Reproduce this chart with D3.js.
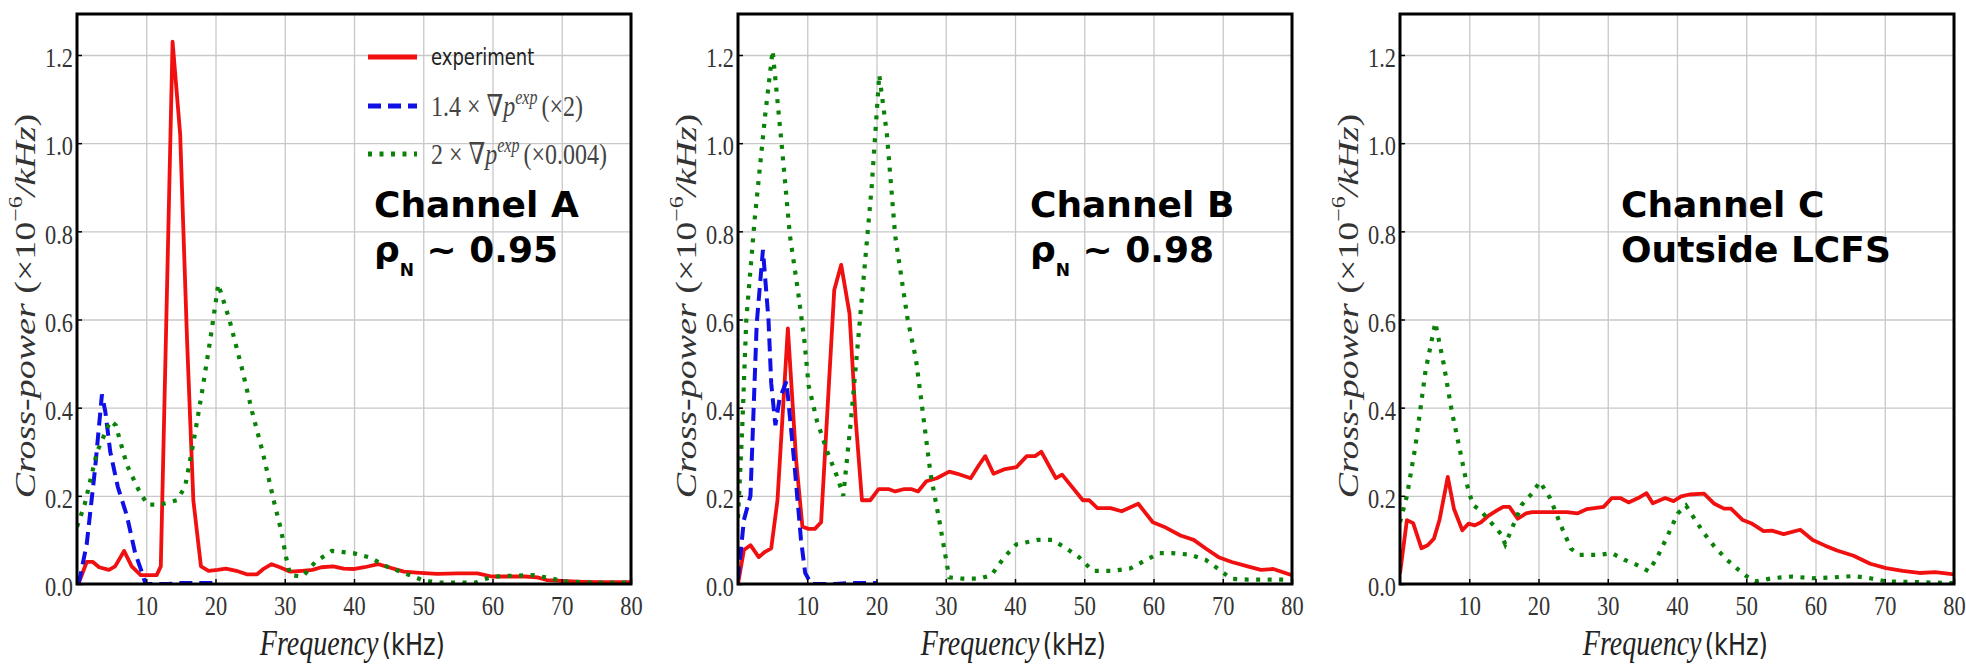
<!DOCTYPE html>
<html>
<head>
<meta charset="utf-8">
<script src="https://cdn.jsdelivr.net/npm/d3@7"></script>
<style>
  html, body { margin: 0; padding: 0; background: #fff; }
  svg { display: block; }
</style>
</head>
<body>
<svg id="chart" width="1966" height="665"></svg>
<script>
// ---- Channel A (rho_N ~ 0.95) ----
const expA_f = [0.2, 1.4, 2.3, 3.2, 4.6, 5.5, 6.8, 7.9, 9.2, 10.4, 11.5, 12.1, 13.8, 14.9, 15.9, 16.8, 17.9, 19.0, 20.3, 21.5, 23.0, 24.5, 26.0, 27.0, 28.1, 29.3, 30.8, 32.5, 34.0, 35.3, 37.0, 38.5, 39.9, 41.5, 43.5, 45.0, 47.2, 49.0, 52.0, 55.0, 57.8, 59.9, 62.0, 64.7, 66.5, 67.8, 70.0, 73.0, 76.0, 80.0];
const expA_p = [0.0, 0.05, 0.05, 0.038, 0.032, 0.04, 0.075, 0.04, 0.02, 0.02, 0.02, 0.04, 1.23, 1.02, 0.55, 0.19, 0.04, 0.03, 0.032, 0.035, 0.03, 0.022, 0.022, 0.035, 0.045, 0.038, 0.028, 0.03, 0.032, 0.038, 0.04, 0.035, 0.034, 0.038, 0.045, 0.038, 0.028, 0.026, 0.023, 0.024, 0.024, 0.017, 0.017, 0.017, 0.015, 0.009, 0.007, 0.005, 0.004, 0.004];
const gradA_f = [0.2, 0.5, 1.4, 2.6, 3.6, 4.1, 4.8, 5.9, 7.2, 8.4, 9.3, 9.9, 11.0, 13.0, 15.0, 17.0, 20.0];
const gradA_p = [0.0, 0.02, 0.09, 0.26, 0.43, 0.39, 0.30, 0.22, 0.155, 0.07, 0.03, 0.0, 0.0, 0.0, 0.002, 0.002, 0.002];
const gradA2_f = [0.0, 1.1, 2.9, 4.8, 5.6, 7.2, 9.0, 10.2, 12.0, 14.4, 15.6, 16.8, 18.1, 19.3, 20.4, 22.0, 23.8, 25.3, 26.8, 28.4, 29.5, 30.2, 30.8, 32.6, 34.4, 36.8, 39.9, 42.3, 44.7, 47.2, 50.2, 52.6, 57.5, 59.3, 61.1, 65.9, 68.4, 70.2, 75.0, 80.0];
const gradA2_p = [0.13, 0.18, 0.30, 0.37, 0.36, 0.27, 0.21, 0.18, 0.18, 0.19, 0.22, 0.32, 0.44, 0.56, 0.68, 0.60, 0.49, 0.39, 0.30, 0.19, 0.12, 0.06, 0.02, 0.017, 0.05, 0.075, 0.07, 0.06, 0.04, 0.025, 0.007, 0.003, 0.003, 0.013, 0.018, 0.02, 0.013, 0.006, 0.003, 0.003];

// ---- Channel B (rho_N ~ 0.98) ----
const expB_f = [0.0, 0.85, 1.8, 3.0, 3.9, 4.8, 5.7, 7.2, 8.4, 9.3, 10.2, 11.1, 12.0, 13.9, 14.9, 16.1, 17.0, 17.9, 19.1, 20.3, 21.8, 22.7, 23.9, 25.1, 26.0, 27.2, 28.7, 30.5, 31.7, 33.6, 34.8, 35.7, 36.9, 38.4, 40.2, 41.7, 42.9, 43.8, 45.9, 46.8, 49.8, 50.7, 51.9, 53.8, 55.4, 57.8, 59.9, 61.5, 63.9, 65.8, 67.6, 69.5, 71.3, 73.6, 75.5, 77.3, 80.0];
const expB_p = [0.0, 0.077, 0.088, 0.061, 0.073, 0.081, 0.19, 0.58, 0.28, 0.13, 0.125, 0.125, 0.14, 0.667, 0.724, 0.614, 0.372, 0.19, 0.19, 0.215, 0.215, 0.21, 0.215, 0.215, 0.21, 0.233, 0.24, 0.255, 0.25, 0.24, 0.27, 0.29, 0.25, 0.26, 0.265, 0.29, 0.29, 0.3, 0.24, 0.248, 0.19, 0.19, 0.172, 0.172, 0.165, 0.182, 0.14, 0.13, 0.11, 0.1, 0.08, 0.06, 0.05, 0.04, 0.032, 0.034, 0.02];
const gradB_f = [0.0, 0.85, 1.8, 2.7, 3.6, 4.4, 4.8, 5.4, 6.0, 7.0, 8.1, 9.1, 9.7, 10.6, 12.0, 14.0, 16.0, 18.0, 20.0];
const gradB_p = [0.01, 0.145, 0.2, 0.59, 0.758, 0.6, 0.455, 0.36, 0.42, 0.46, 0.28, 0.1, 0.025, 0.0, 0.0, 0.0, 0.002, 0.002, 0.002];
const gradB2_f = [0.0, 0.6, 1.2, 2.4, 3.9, 5.0, 6.3, 7.5, 8.7, 9.6, 10.2, 11.4, 12.9, 14.4, 15.2, 16.3, 17.5, 19.3, 20.4, 21.5, 22.7, 24.5, 25.7, 26.6, 27.8, 29.0, 30.0, 30.5, 32.4, 34.8, 36.6, 38.4, 40.2, 43.3, 45.4, 47.5, 49.3, 51.2, 54.2, 56.6, 58.4, 60.8, 62.7, 65.1, 67.5, 69.3, 71.2, 73.6, 80.0];
const gradB2_p = [0.15, 0.35, 0.6, 0.826, 1.06, 1.21, 0.998, 0.79, 0.66, 0.55, 0.45, 0.37, 0.3, 0.24, 0.2, 0.37, 0.58, 0.9, 1.155, 1.02, 0.79, 0.6, 0.51, 0.4, 0.25, 0.15, 0.06, 0.015, 0.012, 0.012, 0.02, 0.06, 0.09, 0.1, 0.1, 0.08, 0.06, 0.03, 0.03, 0.035, 0.05, 0.07, 0.07, 0.067, 0.055, 0.035, 0.012, 0.01, 0.01];

// ---- Channel C (outside LCFS) ----
const expC_f = [0.0, 1.0, 1.9, 3.1, 4.0, 4.9, 5.7, 6.9, 7.8, 9.0, 9.9, 10.8, 11.7, 12.8, 14.0, 14.9, 15.8, 17.0, 18.2, 19.1, 21.7, 24.1, 25.6, 27.0, 29.4, 30.6, 31.8, 33.0, 34.4, 35.6, 36.5, 38.3, 39.5, 40.6, 41.8, 43.9, 45.4, 46.8, 47.8, 49.5, 50.7, 52.5, 53.7, 55.4, 57.8, 59.6, 61.4, 63.1, 65.5, 67.9, 70.2, 72.6, 75.0, 77.3, 80.0];
const expC_p = [0.024, 0.145, 0.138, 0.081, 0.088, 0.103, 0.145, 0.243, 0.17, 0.122, 0.137, 0.133, 0.14, 0.155, 0.167, 0.175, 0.175, 0.148, 0.16, 0.163, 0.163, 0.163, 0.16, 0.17, 0.175, 0.195, 0.195, 0.185, 0.195, 0.206, 0.183, 0.195, 0.188, 0.199, 0.203, 0.205, 0.182, 0.171, 0.171, 0.145, 0.138, 0.12, 0.121, 0.113, 0.123, 0.1, 0.087, 0.076, 0.064, 0.046, 0.036, 0.03, 0.025, 0.027, 0.022];
const gradC2_f = [0.0, 1.0, 2.2, 3.7, 5.1, 6.3, 7.5, 8.7, 9.6, 10.5, 11.7, 13.4, 14.6, 15.2, 16.4, 17.6, 19.1, 20.2, 21.7, 23.2, 24.7, 25.9, 28.8, 30.6, 32.4, 34.1, 35.9, 37.1, 38.6, 40.1, 41.3, 42.4, 43.9, 45.4, 47.2, 48.9, 50.1, 51.3, 53.7, 56.6, 59.6, 62.5, 65.5, 67.9, 70.2, 80.0];
const gradC2_p = [0.14, 0.2, 0.31, 0.485, 0.593, 0.5, 0.39, 0.3, 0.23, 0.18, 0.165, 0.135, 0.113, 0.09, 0.135, 0.18, 0.206, 0.232, 0.194, 0.134, 0.08, 0.066, 0.066, 0.07, 0.055, 0.044, 0.029, 0.059, 0.108, 0.16, 0.178, 0.151, 0.115, 0.085, 0.055, 0.032, 0.017, 0.006, 0.013, 0.017, 0.013, 0.015, 0.018, 0.013, 0.006, 0.002];

// ---- axes ----
const xTicks = [10, 20, 30, 40, 50, 60, 70, 80];
const yTicks = [0.0, 0.2, 0.4, 0.6, 0.8, 1.0, 1.2];
const xDomain = [0, 80];
const yDomain = [0, 1.293];

const panelTitles = ["Channel A", "Channel B", "Channel C"];
const legendLabels = ["experiment", "1.4 \u00d7 \u2207p exp (\u00d72)", "2 \u00d7 \u2207p exp (\u00d70.004)"];

const panels = [
  { exp: [expA_f, expA_p], grad: [gradA_f, gradA_p], grad2: [gradA2_f, gradA2_p], rho: "0.95" },
  { exp: [expB_f, expB_p], grad: [gradB_f, gradB_p], grad2: [gradB2_f, gradB2_p], rho: "0.98" },
  { exp: [expC_f, expC_p], grad: null, grad2: [gradC2_f, gradC2_p], rho: null }
];

const COLORS = { exp: "#f01010", grad: "#1010e6", grad2: "#0a820a" };
const SERIF = "'Liberation Serif', 'DejaVu Serif', serif";
const SANS = "'DejaVu Sans', 'Liberation Sans', sans-serif";
const SQ = 0.8; // horizontal squeeze of plot text

const svg = d3.select("#chart");
svg.append("rect").attr("width", 1966).attr("height", 665).attr("fill", "#fff");

const plotLefts = [77, 738, 1400];
const plotW = 554, plotTop = 14, plotBottom = 584;

plotLefts.forEach((left, i) => {
  const P = panels[i];
  const x = d3.scaleLinear().domain(xDomain).range([0, plotW]);
  const y = d3.scaleLinear().domain(yDomain).range([plotBottom - plotTop, 0]);
  const h = plotBottom - plotTop;
  const g = svg.append("g").attr("transform", `translate(${left},${plotTop})`);

  // grid
  g.append("g").attr("transform", `translate(0,${h})`)
    .call(d3.axisBottom(x).tickValues(xTicks).tickSize(-h).tickFormat(""))
    .call(s => s.select(".domain").remove())
    .call(s => s.selectAll("line").attr("stroke", "#c8c8c8").attr("stroke-width", 1.3));
  g.append("g")
    .call(d3.axisLeft(y).tickValues(yTicks.filter(v => v > 0)).tickSize(-plotW).tickFormat(""))
    .call(s => s.select(".domain").remove())
    .call(s => s.selectAll("line").attr("stroke", "#c8c8c8").attr("stroke-width", 1.3));

  // curves, clipped to the plot area
  const cid = "clip" + i;
  g.append("clipPath").attr("id", cid).append("rect").attr("width", plotW).attr("height", h);
  const lines = g.append("g").attr("clip-path", `url(#${cid})`);
  const lineGen = d3.line().x(d => x(d[0])).y(d => y(d[1]));
  const pairs = (arr) => arr[0].map((f, k) => [f, arr[1][k]]);

  lines.append("path").datum(pairs(P.exp))
    .attr("d", lineGen).attr("fill", "none").attr("stroke", COLORS.exp)
    .attr("stroke-width", 3.8).attr("stroke-linejoin", "round");
  if (P.grad) {
    lines.append("path").datum(pairs(P.grad))
      .attr("d", lineGen).attr("fill", "none").attr("stroke", COLORS.grad)
      .attr("stroke-width", 4).attr("stroke-dasharray", "13,7");
  }
  lines.append("path").datum(pairs(P.grad2))
    .attr("d", lineGen).attr("fill", "none").attr("stroke", COLORS.grad2)
    .attr("stroke-width", 4.2).attr("stroke-dasharray", "4,7.5");

  // axes with labels
  const xa = g.append("g").attr("transform", `translate(0,${h})`)
    .call(d3.axisBottom(x).tickValues(xTicks).tickSizeInner(-5).tickSizeOuter(0).tickPadding(0).tickFormat(d3.format("d")));
  xa.select(".domain").remove();
  xa.selectAll("line").attr("stroke", "#000").attr("stroke-width", 1.5);
  xa.selectAll("text").attr("y", 31).attr("dy", null)
    .attr("transform", `scale(${SQ},1)`)
    .attr("font-family", SERIF).attr("font-size", 28).attr("fill", "#333");

  const ya = g.append("g")
    .call(d3.axisLeft(y).tickValues(yTicks).tickSizeInner(-5).tickSizeOuter(0).tickPadding(0).tickFormat(d3.format(".1f")));
  ya.select(".domain").remove();
  ya.selectAll("line").attr("stroke", "#000").attr("stroke-width", 1.5);
  ya.selectAll("text").attr("x", -4 / SQ).attr("dy", "0.42em")
    .attr("transform", `scale(${SQ},1)`)
    .attr("font-family", SERIF).attr("font-size", 28).attr("fill", "#333");

  // frame
  g.append("rect").attr("width", plotW).attr("height", h)
    .attr("fill", "none").attr("stroke", "#000").attr("stroke-width", 3);

  // y axis title, centred on the plot height
  const yt = g.append("text")
    .attr("text-anchor", "middle").attr("font-family", SERIF).attr("font-size", 38).attr("fill", "#333");
  yt.append("tspan").attr("font-style", "italic").text("Cross-power");
  yt.append("tspan").text(" (\u00d710");
  yt.append("tspan").attr("font-size", 24).attr("dy", -16).text("\u22126");
  yt.append("tspan").attr("font-style", "italic").attr("dy", 16).text("/kHz");
  yt.append("tspan").text(")");
  const yb = yt.node().getBBox();
  const ycx = yb.x + yb.width / 2;
  yt.attr("transform", `translate(-42,${306 - plotTop + ycx}) rotate(-90) scale(1,${SQ})`);

  // x axis title
  const xt = g.append("text")
    .attr("text-anchor", "middle").attr("fill", "#222");
  xt.append("tspan").attr("font-family", SERIF).attr("font-style", "italic").attr("font-size", 35).text("Frequency");
  xt.append("tspan").attr("font-family", SANS).attr("font-size", 30).attr("dx", 4).text("(kHz)");
  const xb = xt.node().getBBox();
  const xcx = xb.x + xb.width / 2;
  xt.attr("transform", `translate(${plotW / 2 - 2 - xcx * SQ},${655 - plotTop}) scale(${SQ},1)`);

  // panel annotation
  const ax = i === 2 ? 221 : (i === 0 ? 297 : 292);
  g.append("text").attr("x", ax).attr("y", 217 - plotTop)
    .attr("font-family", SANS).attr("font-weight", "bold").attr("font-size", 36).attr("fill", "#000")
    .text(panelTitles[i]);
  const l2 = g.append("text").attr("x", ax).attr("y", 262 - plotTop)
    .attr("font-family", SANS).attr("font-weight", "bold").attr("font-size", 36).attr("fill", "#000");
  if (P.rho) {
    l2.append("tspan").text("\u03c1");
    l2.append("tspan").attr("font-size", 17).attr("dy", 14).text("N");
    l2.append("tspan").attr("dy", -14).text(" ~ " + P.rho);
  } else {
    l2.text("Outside LCFS");
  }

  // legend (first panel only)
  if (i === 0) {
    const lg = g.append("g");
    const rows = [57, 106, 154].map(v => v - plotTop);
    const sx1 = 368 - left, sx2 = 417 - left, tx = 431 - left;
    lg.append("line").attr("x1", sx1).attr("x2", sx2).attr("y1", rows[0]).attr("y2", rows[0])
      .attr("stroke", COLORS.exp).attr("stroke-width", 5);
    lg.append("line").attr("x1", sx1).attr("x2", sx2).attr("y1", rows[1]).attr("y2", rows[1])
      .attr("stroke", COLORS.grad).attr("stroke-width", 5).attr("stroke-dasharray", "13,7");
    lg.append("line").attr("x1", sx1).attr("x2", sx2).attr("y1", rows[2]).attr("y2", rows[2])
      .attr("stroke", COLORS.grad2).attr("stroke-width", 5).attr("stroke-dasharray", "4,7.5");

    lg.append("text").attr("transform", `translate(${tx},${rows[0] + 8}) scale(${SQ},1)`)
      .attr("font-family", SANS).attr("font-size", 22.5).attr("fill", "#222").text(legendLabels[0]);

    [1, 2].forEach(k => {
      const parts = legendLabels[k].split(" exp ");
      const t = lg.append("text").attr("transform", `translate(${tx},${rows[k] + 10}) scale(${SQ},1)`)
        .attr("font-family", SERIF).attr("font-size", 30).attr("fill", "#444");
      const head = parts[0];
      t.append("tspan").text(head.slice(0, -1));
      t.append("tspan").attr("font-style", "italic").text(head.slice(-1));
      t.append("tspan").attr("font-style", "italic").attr("font-size", 20).attr("dy", -12).text("exp");
      t.append("tspan").attr("dy", 12).attr("dx", 5).text(parts[1]);
    });
  }
});
</script>
</body>
</html>
